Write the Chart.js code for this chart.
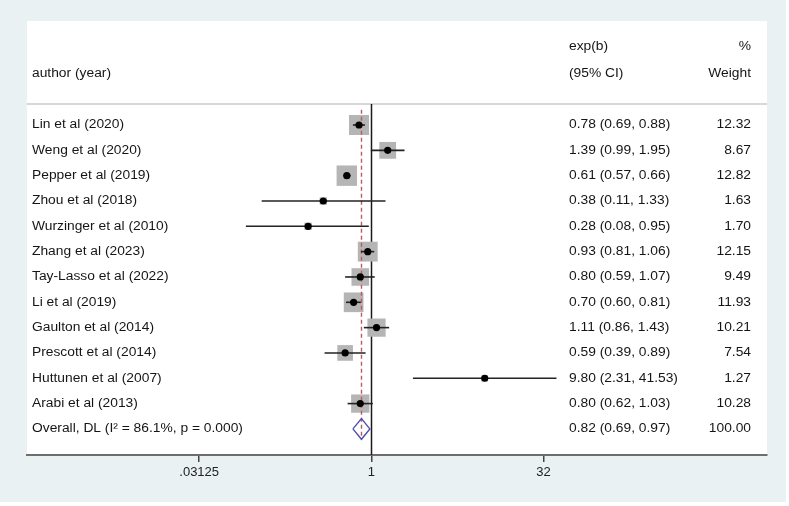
<!DOCTYPE html>
<html><head><meta charset="utf-8">
<script src="https://cdn.jsdelivr.net/npm/chart.js@4.4.1/dist/chart.umd.min.js"></script>
<style>html,body{margin:0;padding:0;background:#fff}#wrap{width:789px;height:506px}</style>
</head><body><div id="wrap"><canvas id="c" width="789" height="506"></canvas></div>
<script>
const authors = ["Lin et al (2020)","Weng et al (2020)","Pepper et al (2019)","Zhou et al (2018)","Wurzinger et al (2010)","Zhang et al (2023)","Tay-Lasso et al (2022)","Li et al (2019)","Gaulton et al (2014)","Prescott et al (2014)","Huttunen et al (2007)","Arabi et al (2013)"];
const est = [0.78,1.39,0.61,0.38,0.28,0.93,0.80,0.70,1.11,0.59,9.80,0.80];
const lo  = [0.69,0.99,0.57,0.11,0.08,0.81,0.59,0.60,0.86,0.39,2.31,0.62];
const hi  = [0.88,1.95,0.66,1.33,0.95,1.06,1.07,0.81,1.43,0.89,41.53,1.03];
const weights = [12.32,8.67,12.82,1.63,1.70,12.15,9.49,11.93,10.21,7.54,1.27,10.28];
const overallLabel = "Overall, DL (I\u00B2 = 86.1%, p = 0.000)";
const overallEst = 0.82, overallLo = 0.69, overallHi = 0.97, overallWeight = 100.00;
const tickValues = [0.03125, 1, 32];
const tickLabels = [".03125", "1", "32"];

const overallRow = authors.length;
const FONT = '12px "Liberation Sans", Arial, sans-serif';
const SX = 1.15;
function txt(ctx, s, x, y, align){
  ctx.save(); ctx.translate(x, y); ctx.scale(SX, 1);
  ctx.textAlign = align; ctx.textBaseline = 'middle'; ctx.fillText(s, 0, 0);
  ctx.restore();
}

const forest = {
  id: 'forest',
  beforeDraw(chart){
    const ctx = chart.ctx, a = chart.chartArea;
    ctx.save();
    ctx.fillStyle = '#eaf1f3'; ctx.fillRect(0, 0, 786, 502);
    ctx.fillStyle = '#ffffff'; ctx.fillRect(a.left, 21, a.right - a.left, a.bottom - 21);
    ctx.restore();
  },
  beforeDatasetsDraw(chart){
    const ctx = chart.ctx, a = chart.chartArea, xs = chart.scales.x;
    ctx.save();
    ctx.strokeStyle = '#d7d7d7'; ctx.lineWidth = 2;
    ctx.beginPath(); ctx.moveTo(a.left, a.top); ctx.lineTo(a.right, a.top); ctx.stroke();
    const x1 = Math.round(xs.getPixelForValue(1)) + 0.5;
    ctx.strokeStyle = '#1a1a1a'; ctx.lineWidth = 1.5;
    ctx.beginPath(); ctx.moveTo(x1, a.top); ctx.lineTo(x1, a.bottom); ctx.stroke();
    ctx.restore();
  },
  afterDraw(chart){
    const ctx = chart.ctx, ys = chart.scales.y;
    ctx.save();
    ctx.fillStyle = '#151515'; ctx.font = FONT;
    txt(ctx, 'exp(b)', 569, 47, 'left');
    txt(ctx, '(95% CI)', 569, 74, 'left');
    txt(ctx, '%', 751, 47, 'right');
    txt(ctx, 'Weight', 751, 74, 'right');
    txt(ctx, 'author (year)', 32, 74, 'left');
    authors.forEach((name, i) => {
      const y = ys.getPixelForValue(i);
      txt(ctx, name, 32, y, 'left');
      txt(ctx, est[i].toFixed(2) + ' (' + lo[i].toFixed(2) + ', ' + hi[i].toFixed(2) + ')', 569, y, 'left');
      txt(ctx, weights[i].toFixed(2), 751, y, 'right');
    });
    const yo = ys.getPixelForValue(overallRow);
    txt(ctx, overallLabel, 32, yo, 'left');
    txt(ctx, overallEst.toFixed(2) + ' (' + overallLo.toFixed(2) + ', ' + overallHi.toFixed(2) + ')', 569, yo, 'left');
    txt(ctx, overallWeight.toFixed(2), 751, yo, 'right');
    ctx.restore();
  }
};

const ciSets = authors.map((n, i) => ({
  type: 'scatter', showLine: true, order: 3,
  data: [{x: lo[i], y: i}, {x: hi[i], y: i}],
  borderColor: '#222', borderWidth: 1.6, pointRadius: 0, pointHoverRadius: 0
}));

const datasets = [
  { type: 'scatter', order: 1, data: est.map((v, i) => ({x: v, y: i})),
    pointStyle: 'circle', pointRadius: 3.6, backgroundColor: '#000', borderWidth: 0, pointHoverRadius: 3.6 },
  { type: 'scatter', showLine: true, order: 2,
    data: [{x: overallLo, y: overallRow}, {x: overallEst, y: overallRow - 0.41}, {x: overallHi, y: overallRow}, {x: overallEst, y: overallRow + 0.41}, {x: overallLo, y: overallRow}],
    borderColor: '#4f4fb0', borderWidth: 1.4, pointRadius: 0, fill: false, tension: 0 },
  ...ciSets,
  { type: 'scatter', showLine: true, order: 4,
    data: [{x: overallEst, y: -0.6}, {x: overallEst, y: overallRow + 0.42}],
    borderColor: '#c25a5a', borderWidth: 1.4, borderDash: [4, 3], pointRadius: 0 },
  { type: 'scatter', order: 5, data: est.map((v, i) => ({x: v, y: i})),
    pointStyle: 'rect', pointRadius: weights.map(w => 5.7 * Math.sqrt(w) / Math.SQRT2),
    backgroundColor: '#b5b5b5', borderWidth: 0, pointHoverRadius: 0 }
];

new Chart(document.getElementById('c'), {
  type: 'scatter',
  data: { datasets },
  options: {
    responsive: false, animation: false,
    layout: { padding: { left: 27, right: 22, top: 104, bottom: 0 } },
    plugins: { legend: { display: false }, tooltip: { enabled: false } },
    events: [],
    scales: {
      x: {
        type: 'logarithmic', position: 'bottom', bounds: 'data',
        min: Math.pow(2, -10), max: Math.pow(2, 11.49),
        afterBuildTicks: s => { s.ticks = tickValues.map(v => ({ value: v })); },
        afterFit: s => { s.height = 51; },
        ticks: { autoSkip: false, maxRotation: 0, padding: 3, color: '#222',
          font: { family: '"Liberation Sans", Arial, sans-serif', size: 13 },
          callback: (v) => { const k = tickValues.indexOf(v); return k >= 0 ? tickLabels[k] : ''; } },
        grid: { display: true, drawOnChartArea: false, drawTicks: true, tickLength: 7, color: '#444', lineWidth: 1.5 },
        border: { display: true, color: '#6e6e6e', width: 2 }
      },
      y: { type: 'linear', reverse: true, min: -0.83, max: 13.03, display: false }
    }
  },
  plugins: [forest]
});
</script>
</body></html>
